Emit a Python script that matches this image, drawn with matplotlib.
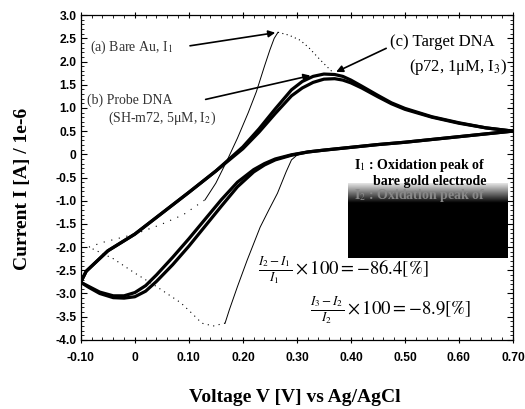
import matplotlib
matplotlib.use('Agg')
import matplotlib.pyplot as plt
import numpy as np
from matplotlib.ticker import MultipleLocator, FixedLocator
from matplotlib.patches import Rectangle

plt.rcParams['mathtext.fontset'] = 'stix'

# ---------------- data ----------------
# (c) Target DNA
c_an_v = [-0.10, -0.09, -0.05, 0.00, 0.05, 0.10, 0.15, 0.20, 0.23, 0.26, 0.29, 0.31, 0.33, 0.35, 0.37, 0.385, 0.40, 0.42, 0.45, 0.475, 0.50, 0.55, 0.60, 0.65, 0.70]
c_an_i = [-2.75, -2.52, -2.08, -1.72, -1.27, -0.82, -0.36, 0.12, 0.48, 0.88, 1.26, 1.43, 1.55, 1.62, 1.63, 1.60, 1.54, 1.43, 1.24, 1.09, 0.97, 0.80, 0.67, 0.57, 0.50]
c_ca_v = [0.70, 0.65, 0.60, 0.55, 0.50, 0.45, 0.40, 0.35, 0.32, 0.29, 0.26, 0.24, 0.22, 0.19, 0.16, 0.13, 0.10, 0.07, 0.04, 0.02, 0.00, -0.02, -0.04, -0.065, -0.085, -0.10]
c_ca_i = [0.50, 0.44, 0.38, 0.32, 0.26, 0.21, 0.15, 0.09, 0.05, -0.01, -0.10, -0.20, -0.33, -0.60, -0.98, -1.40, -1.82, -2.22, -2.60, -2.83, -2.98, -3.05, -3.05, -2.97, -2.85, -2.76]

# (b) Probe DNA
b_an_v = c_an_v
b_an_i = [-2.75, -2.52, -2.08, -1.72, -1.27, -0.82, -0.36, 0.16, 0.55, 0.98, 1.39, 1.57, 1.68, 1.73, 1.72, 1.68, 1.60, 1.47, 1.27, 1.11, 0.99, 0.81, 0.68, 0.57, 0.50]
b_ca_v = c_ca_v
b_ca_i = [0.50, 0.44, 0.38, 0.32, 0.26, 0.21, 0.15, 0.09, 0.05, -0.02, -0.12, -0.23, -0.38, -0.70, -1.12, -1.55, -1.98, -2.38, -2.74, -2.95, -3.07, -3.10, -3.09, -3.00, -2.87, -2.76]

# (a) Bare Au
a_an_v = [0.13, 0.15, 0.17, 0.19, 0.21, 0.225, 0.24, 0.25, 0.258, 0.265]
a_an_i = [-0.98, -0.62, -0.15, 0.35, 0.90, 1.35, 1.90, 2.25, 2.50, 2.63]
a_an_dot_v = [0.265, 0.285, 0.306, 0.322, 0.338, 0.353, 0.368]
a_an_dot_i = [2.63, 2.57, 2.46, 2.30, 2.10, 1.92, 1.75]
a_ca_v = [0.32, 0.30, 0.29, 0.28, 0.264, 0.248, 0.232, 0.208, 0.19, 0.175, 0.167]
a_ca_i = [0.06, -0.02, -0.12, -0.38, -0.84, -1.20, -1.57, -2.28, -2.85, -3.35, -3.64]
a_ca_dot_v = [0.167, 0.145, 0.124, 0.105, 0.085, 0.04, 0.00, -0.04, -0.085]
a_ca_dot_i = [-3.64, -3.70, -3.64, -3.42, -3.20, -2.85, -2.56, -2.25, -2.00]
a_lo_dot_v = [-0.085, -0.06, 0.00, 0.047, 0.09, 0.13]
a_lo_dot_i = [-2.00, -1.90, -1.72, -1.52, -1.30, -0.98]

x_ticks = [-0.10, 0.0, 0.10, 0.20, 0.30, 0.40, 0.50, 0.60, 0.70]
x_labels = ['-0.10', '0', '0.10', '0.20', '0.30', '0.40', '0.50', '0.60', '0.70']
y_ticks = [3.0, 2.5, 2.0, 1.5, 1.0, 0.5, 0.0, -0.5, -1.0, -1.5, -2.0, -2.5, -3.0, -3.5, -4.0]
y_labels = ['3.0', '2.5', '2.0', '1.5', '1.0', '0.5', '0', '-0.5', '-1.0', '-1.5', '-2.0', '-2.5', '-3.0', '-3.5', '-4.0']

# ---------------- figure ----------------
fig = plt.figure(figsize=(5.25, 4.09), dpi=100)
ax = fig.add_axes([0.154, 0.169, 0.823, 0.794])

thick = 2.3
for v, i in [(b_an_v, b_an_i), (b_ca_v, b_ca_i), (c_an_v, c_an_i), (c_ca_v, c_ca_i)]:
    ax.plot(v, i, color='black', lw=thick, solid_capstyle='round', solid_joinstyle='round', zorder=3)

ax.plot(a_an_v, a_an_i, color='black', lw=0.7, zorder=2)
ax.plot(a_ca_v, a_ca_i, color='black', lw=0.7, zorder=2)
ax.plot(a_an_dot_v, a_an_dot_i, color='black', lw=0.8, ls=(0, (1, 3)), zorder=2)
ax.plot(a_ca_dot_v, a_ca_dot_i, color='black', lw=0.8, ls=(0, (1, 4)), zorder=2)
ax.plot(a_lo_dot_v, a_lo_dot_i, color='black', lw=0.8, ls=(0, (1, 6)), zorder=2)

ax.set_xlim(-0.10, 0.70)
ax.set_ylim(-4.0, 3.0)

ax.xaxis.set_major_locator(FixedLocator(x_ticks))
ax.set_xticklabels(x_labels)
ax.yaxis.set_major_locator(FixedLocator(y_ticks))
ax.set_yticklabels(y_labels)
ax.xaxis.set_minor_locator(MultipleLocator(0.02))
ax.yaxis.set_minor_locator(MultipleLocator(0.1))

for lab in ax.get_xticklabels() + ax.get_yticklabels():
    lab.set_fontfamily('Liberation Sans')
    lab.set_fontweight('bold')
    lab.set_fontsize(8.7)

ax.tick_params(axis='both', which='both', top=True, right=True)
ax.tick_params(axis='y', which='major', direction='in', length=4, width=0.8, pad=3)
ax.tick_params(axis='y', which='minor', direction='in', length=2, width=0.6)
ax.tick_params(axis='x', which='major', direction='inout', length=5, width=0.8, pad=6)
ax.tick_params(axis='x', which='minor', direction='in', length=2.5, width=0.6)
for s in ax.spines.values():
    s.set_linewidth(0.9)

fig.text(0.042, 0.538, 'Current I [A] / 1e-6', rotation=90, ha='center', va='center',
         fontfamily='Liberation Serif', fontweight='bold', fontsize=14)
fig.text(0.562, 1 - 398 / 409, 'Voltage V [V] vs Ag/AgCl', ha='center', va='center',
         fontfamily='Liberation Serif', fontweight='bold', fontsize=14)

# annotations
serif = 'Liberation Serif'
ax.text(-0.083, 2.31, '(a) Bare Au, I$_1$', fontfamily=serif, fontsize=10, color='#333333',
        ha='left', va='center')
ax.annotate('', xy=(0.265, 2.63), xytext=(0.097, 2.33),
            arrowprops=dict(arrowstyle='-|>', color='black', lw=1.2, mutation_scale=10))
ax.text(-0.089, 1.17, '(b) Probe DNA', fontfamily=serif, fontsize=10, color='#333333',
        ha='left', va='center')
ax.text(-0.05, 0.78, '(SH-m72, 5μM, I$_2$)', fontfamily=serif, fontsize=10, color='#333333',
        ha='left', va='center')
ax.annotate('', xy=(0.33, 1.71), xytext=(0.126, 1.17),
            arrowprops=dict(arrowstyle='-|>', color='black', lw=1.2, mutation_scale=10))
ax.text(0.473, 2.42, '(c) Target DNA', fontfamily=serif, fontsize=12, color='black',
        ha='left', va='center')
ax.text(0.69, 1.88, '(p72, 1μM, I$_3$)', fontfamily=serif, fontsize=12, color='black',
        ha='right', va='center')
ax.annotate('', xy=(0.368, 1.75), xytext=(0.47, 2.31),
            arrowprops=dict(arrowstyle='-|>', color='black', lw=1.2, mutation_scale=10))

# noisy box
grad = np.linspace(0.9, 0.0, 50).reshape(-1, 1)
ax.imshow(grad, cmap='gray', vmin=0, vmax=1, extent=[0.395, 0.69, -1.05, -0.62],
          aspect='auto', zorder=4, interpolation='bilinear')
ax.add_patch(Rectangle((0.395, -2.24), 0.295, 1.19, facecolor='black', edgecolor='none', zorder=4))
ax.text(0.405, -0.25, 'I$_1$ : Oxidation peak of', fontfamily=serif, fontweight='bold',
        fontsize=10, ha='left', va='center', zorder=5)
ax.text(0.44, -0.58, 'bare gold electrode', fontfamily=serif, fontweight='bold',
        fontsize=10, ha='left', va='center', zorder=5)
ax.text(0.405, -0.88, 'I$_2$ : Oxidation peak of', fontfamily=serif, fontweight='bold',
        fontsize=10, ha='left', va='center', color='#888888', zorder=5)
ax.set_xlim(-0.10, 0.70)
ax.set_ylim(-4.0, 3.0)

ax.text(0.228, -2.5, r'$\frac{I_2 - I_1}{I_1}\times 100 = -86.4[\%]$', fontsize=13.5,
        ha='left', va='center')
ax.text(0.325, -3.36, r'$\frac{I_3 - I_2}{I_2}\times 100 = -8.9[\%]$', fontsize=13.5,
        ha='left', va='center')

fig.savefig('out.png', dpi=100)
